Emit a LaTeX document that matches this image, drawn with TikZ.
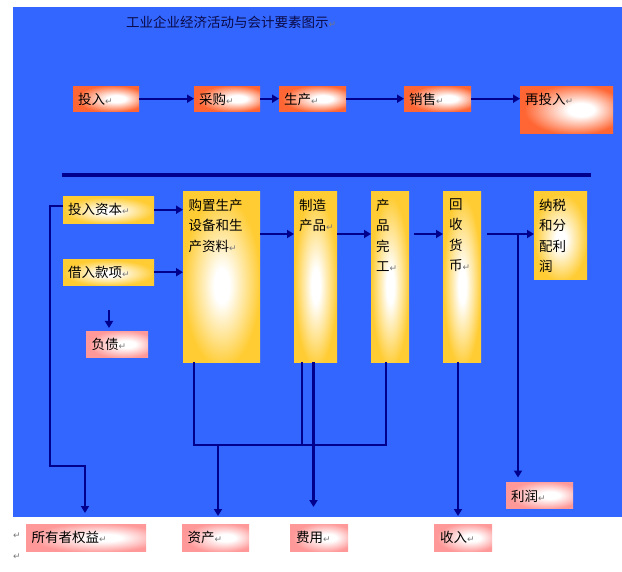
\documentclass[tikz,border=0pt]{standalone}
\usepackage{fontspec}
\setmainfont{Noto Sans CJK SC}
\newfontfamily\symf{DejaVu Sans}
\usetikzlibrary{arrows.meta}
\definecolor{bgblue}{RGB}{51,102,255}
\definecolor{lnavy}{RGB}{0,0,140}
\definecolor{orng}{RGB}{255,102,51}
\definecolor{yelw}{RGB}{255,204,51}
\definecolor{pnk}{RGB}{255,153,153}
\definecolor{pmgray}{RGB}{120,120,120}
\definecolor{titlecol}{RGB}{10,10,70}
\pgfdeclareradialshading{oshade}{\pgfpoint{9bp}{0bp}}{color(0bp)=(white); color(7bp)=(white); color(27bp)=(orng); color(50bp)=(orng)}
\pgfdeclareradialshading{pshade}{\pgfpoint{9bp}{0bp}}{color(0bp)=(white); color(7bp)=(white); color(27bp)=(pnk); color(50bp)=(pnk)}
\pgfdeclareradialshading{yshade}{\pgfpoint{0bp}{-3bp}}{color(0bp)=(white); color(5bp)=(white); color(25bp)=(yelw); color(50bp)=(yelw)}
\newcommand\pmk{{\symf\fontsize{9}{9}\selectfont\textcolor{pmgray}{↵}}}
\begin{document}
\begin{tikzpicture}[x=1pt,y=-1pt,
  box/.style={rectangle, draw=none, inner sep=0pt, anchor=north west},
  obox/.style={box, shading=oshade},
  ybox/.style={box, shading=yshade},
  pbox/.style={box, shading=pshade},
  txt/.style={anchor=north west, inner sep=0pt, font=\fontsize{13.5}{20.5}\selectfont, align=left, text=black},
  arr/.style={draw=lnavy, line width=2.2pt, -{Triangle[length=7pt,width=8pt]}},
  ln/.style={draw=lnavy, line width=2.2pt},
]
\useasboundingbox (0,0) rectangle (622,572);
\fill[white] (0,0) rectangle (622,572);
\fill[bgblue] (13,7.5) rectangle (622,517);

% title
\node[anchor=west, inner sep=0pt, font=\fontsize{13.5}{16}\selectfont, text=titlecol] (title) at (126,22.7) {工业企业经济活动与会计要素图示\pmk};

% row 1
\node[obox, minimum width=66pt, minimum height=25pt] (in1) at (73,86) {};
\node[obox, minimum width=66pt, minimum height=25pt] (cg) at (194,86) {};
\node[obox, minimum width=67pt, minimum height=25pt] (sc) at (279,86) {};
\node[obox, minimum width=67pt, minimum height=25pt] (xs) at (404,86) {};
\node[obox, minimum width=93pt, minimum height=47pt] (ztr) at (520,86) {};
\node[txt] (in1t) at ([shift={(5pt,-6.5pt)}]in1.north west) {投入\pmk};
\node[txt] (cgt) at ([shift={(5pt,-6.5pt)}]cg.north west) {采购\pmk};
\node[txt] (sct) at ([shift={(5pt,-6.5pt)}]sc.north west) {生产\pmk};
\node[txt] (xst) at ([shift={(5pt,-6.5pt)}]xs.north west) {销售\pmk};
\node[txt] (ztrt) at ([shift={(5pt,-6.5pt)}]ztr.north west) {再投入\pmk};
\draw[arr] (in1.east) -- (cg.west);
\draw[arr] (cg.east) -- (sc.west);
\draw[arr] (sc.east) -- (xs.west);
\draw[arr] (xs.east) -- (xs.east -| ztr.west);

% separator
\coordinate (sepL) at (62,175);
\coordinate (sepR) at (591,175);
\draw[draw=lnavy, line width=3.2pt] (sepL) -- (sepR);

% section 2 boxes
\node[ybox, minimum width=91pt, minimum height=27pt] (tz) at (63,196) {};
\node[ybox, minimum width=91pt, minimum height=26pt] (jr) at (63,259) {};
\node[pbox, minimum width=62pt, minimum height=26pt] (fz) at (86,331) {};
\node[ybox, minimum width=77pt, minimum height=171pt] (buy) at (183,191) {};
\node[ybox, minimum width=43pt, minimum height=171pt] (zz) at (294,191) {};
\node[ybox, minimum width=38pt, minimum height=171pt] (wg) at (371,191) {};
\node[ybox, minimum width=38pt, minimum height=171pt] (hs) at (443,191) {};
\node[ybox, minimum width=53pt, minimum height=88pt] (ns) at (534,191) {};
\node[pbox, minimum width=67pt, minimum height=26pt] (lr) at (506,482) {};
\node[pbox, minimum width=120pt, minimum height=27pt] (oe) at (26,524) {};
\node[pbox, minimum width=67pt, minimum height=27pt] (zc) at (182,524) {};
\node[pbox, minimum width=58pt, minimum height=27pt] (fy) at (290,524) {};
\node[pbox, minimum width=58pt, minimum height=27pt] (sr) at (434,524) {};

\node[txt] (tzt) at ([shift={(5pt,-6.5pt)}]tz.north west) {投入资本\pmk};
\node[txt] (jrt) at ([shift={(5pt,-7pt)}]jr.north west) {借入款项\pmk};
\node[txt] (fzt) at ([shift={(5.5pt,-6.5pt)}]fz.north west) {负债\pmk};
\node[txt] (buyt) at ([shift={(5.5pt,-7.5pt)}]buy.north west) {购置生产\\设备和生\\产资料\pmk};
\node[txt] (zzt) at ([shift={(5pt,-7.5pt)}]zz.north west) {制造\\产品\pmk};
\node[txt] (wgt) at ([shift={(5pt,-7.5pt)}]wg.north west) {产\\品\\完\\工\pmk};
\node[txt] (hst) at ([shift={(6pt,-7.5pt)}]hs.north west) {回\\收\\货\\币\pmk};
\node[txt] (nst) at ([shift={(5pt,-7.5pt)}]ns.north west) {纳税\\和分\\配利\\润};
\node[txt] (lrt) at ([shift={(5pt,-7.5pt)}]lr.north west) {利润\pmk};
\node[txt] (oet) at ([shift={(5.5pt,-7pt)}]oe.north west) {所有者权益\pmk};
\node[txt] (zct) at ([shift={(5.5pt,-7pt)}]zc.north west) {资产\pmk};
\node[txt] (fyt) at ([shift={(6pt,-7pt)}]fy.north west) {费用\pmk};
\node[txt] (srt) at ([shift={(6pt,-7pt)}]sr.north west) {收入\pmk};

% stray paragraph marks
\node[anchor=center, inner sep=0pt] (pm1) at (17,536) {\pmk};
\node[anchor=center, inner sep=0pt] (pm2) at (17,557) {\pmk};

% section 2 connectors
\coordinate (ay) at (0,234);
\coordinate (hb) at (0,445);
\coordinate (xa) at (194,0);
\coordinate (xb) at (302,0);
\coordinate (xc) at (386,0);
\coordinate (xd) at (313.5,0);
\coordinate (xe) at (218,0);
\coordinate (xf) at (458,0);
\coordinate (xg) at (518,0);
\coordinate (oeA) at (50,206);
\coordinate (oeB) at (85,466);
\coordinate (fzA) at (109,310);

\draw[arr] (tz.east) -- (tz.east -| buy.west);
\draw[arr] (jr.east) -- (jr.east -| buy.west);
\draw[arr, shorten >=3pt] (fzA) -- (fzA |- fz.north);
\draw[arr] (buy.east |- ay) -- (zz.west |- ay);
\draw[arr] (zz.east |- ay) -- (wg.west |- ay);
\draw[arr, shorten <=5pt] (wg.east |- ay) -- (hs.west |- ay);
\draw[arr, shorten <=6pt] (hs.east |- ay) -- (ns.west |- ay);
\draw[arr, shorten >=4.5pt] (xg |- ay) -- (xg |- lr.north);

\draw[ln] (xa |- buy.south) |- (xc |- hb) -- (xc |- wg.south);
\draw[ln] (xb |- zz.south) -- (xb |- hb);
\draw[arr, shorten >=17pt] (xd |- zz.south) -- (xd |- fy.north);
\draw[arr, shorten >=8pt] (xe |- hb) -- (xe |- zc.north);
\draw[arr, shorten >=8pt] (xf |- hs.south) -- (xf |- sr.north);
\draw[arr, shorten >=11pt] (tz.west |- oeA) -- (oeA) |- (oeB) -- (oeB |- oe.north);
\end{tikzpicture}
\end{document}
